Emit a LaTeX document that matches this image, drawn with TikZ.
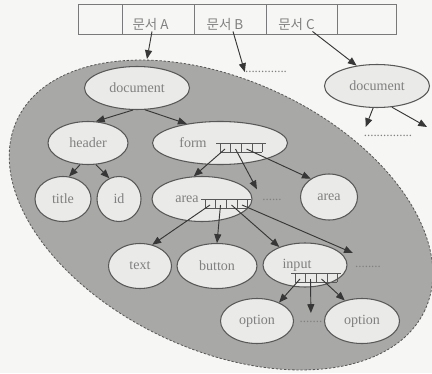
\documentclass[tikz,border=0pt]{standalone}
\usepackage{fontspec}
\setmainfont{Liberation Serif}
\newfontfamily\kofont{Noto Sans CJK KR}
\usepackage{tikz}
\usetikzlibrary{arrows.meta,shapes.geometric,calc}
\usepackage{xcolor}

\definecolor{paper}{RGB}{246,246,244}
\definecolor{domfill}{RGB}{168,168,166}
\definecolor{elemfill}{RGB}{234,234,232}
\definecolor{rim}{RGB}{88,88,88}
\definecolor{ink}{RGB}{128,128,128}
\definecolor{arrowc}{RGB}{55,55,55}

\begin{document}
\begin{tikzpicture}[x=0.03cm,y=-0.03cm,
		elem/.style={draw=rim,line width=0.9pt,fill=elemfill,ellipse,inner sep=0pt,minimum height=1.35cm,text=ink,font=\fontsize{12}{14}\selectfont},
		cell/.style={draw=rim!80,line width=0.8pt,fill=paper,rectangle,inner sep=0pt,minimum height=0.9cm,text height=0.62cm,text depth=0pt,text=ink,font=\kofont\fontsize{11.5}{13}\selectfont},
		more/.style={inner sep=0pt,text=ink,font=\fontsize{11}{12}\selectfont},
		link/.style={-{Triangle[length=7.5pt,width=6pt]},draw=arrowc,line width=0.8pt},
		ptrs/.pic={
			\draw[rim,line width=0.8pt] (0,0) -- (50,0) (4,9) -- (46,9);
			\foreach \t in {4,14,25,36,46} \draw[rim,line width=0.8pt] (\t,0) -- (\t,9);
			\coordinate (-1) at (9,6);
			\coordinate (-2) at (19.5,6);
			\coordinate (-3) at (30.5,6);
			\coordinate (-4) at (41,6);
		}]
	\fill[paper] (0,0) rectangle (432,373);
	\useasboundingbox (0,0) rectangle (432,373);
	
	% DOM area
	\draw[fill=domfill,draw=rim,line width=0.7pt,dash pattern=on 2pt off 1.5pt,rotate around={-25:(221,215)}] (221,215) ellipse [x radius=225,y radius=135];
	\coordinate (domtop) at (147,59);
	
	% document array
	\node[cell,minimum width=1.32cm] (c0) at (100,19) {};
	\node[cell,minimum width=2.16cm] (cA) at (158,19) {문서 A\hspace{0.45cm}\mbox{}};
	\node[cell,minimum width=2.16cm] (cB) at (230,19) {문서 B\hspace{0.3cm}\mbox{}};
	\node[cell,minimum width=2.13cm] (cC) at (301.5,19) {문서 C\hspace{0.3cm}\mbox{}};
	\node[cell,minimum width=1.77cm] (c4) at (366.5,19) {};
	
	% tree
	\node[elem,minimum width=3.15cm,minimum height=1.29cm] (doc) at (137,88) {document};
	\node[elem,minimum width=2.4cm,minimum height=1.29cm] (header) at (88,143) {header};
	\node[elem,minimum width=4.05cm,minimum height=1.29cm] (form) at (220,143) {form\hspace{1.62cm}\mbox{}};
	\node[elem,minimum width=1.68cm] (title) at (63,199) {title};
	\node[elem,minimum width=1.32cm] (id) at (119,199) {id};
	\node[elem,minimum width=3cm] (area) at (202,199) {area\hspace{0.9cm}\mbox{}};
	\node[elem,minimum width=1.71cm,minimum height=1.38cm] (area2) at (329,197) {area};
	\node[elem,minimum width=1.89cm] (text) at (140,266) {text};
	\node[elem,minimum width=2.4cm] (button) at (217,266) {button};
	\node[elem,minimum width=2.52cm,minimum height=1.32cm] (input) at (305,265) {input\hspace{0.48cm}\mbox{}};
	\node[elem,minimum width=2.19cm] (option) at (257,321) {option};
	\node[elem,minimum width=2.25cm] (option2) at (362,321) {option};
	
	% second document
	\node[elem,minimum width=3.15cm,minimum height=1.29cm] (docC) at (377,86) {document};
	\coordinate (docCnext) at (427,127);
	
	% more
	\node[more] (dTop) at (266,72) {.............};
	\node[more] (dC) at (388,136) {...............};
	\node[more] (dA) at (272,200) {......};
	\node[more] (dI) at (368,267) {........};
	\node[more] (dB) at (311,322) {.......};
	
	% links
	\draw[link] ($(cA.south)+(-6,-3)$) -- (domtop);
	\draw[link] ($(cB.south)+(3,-3)$) -- (dTop.west);
	\draw[link] ($(cC.south)+(11,-3)$) -- (docC.135);
	\draw[link] (docC.260) -- ($(dC.north west)+(2,-8)$);
	\draw[link] (docC.305) -- (docCnext);
	
	\draw[link] (doc.260) -- (header.70);
	\draw[link] (doc.290) -- (form.150);
	\draw[link] (header.250) -- (title.75);
	\draw[link] (header.290) -- (id.115);
	
	\pic (fp) at (216,143) {ptrs};
	\draw[link] (fp-1) -- (area.110);
	\draw[link,shorten >=0.33cm] (fp-2) -- (dA.north west);
	\draw[link] (fp-3) -- (area2.135);
	
	\pic (ap) at (201,199) {ptrs};
	\draw[link] (ap-1) -- (text.60);
	\draw[link] (ap-2) -- (button.north);
	\draw[link] (ap-3) -- (input.145);
	\draw[link] (ap-4) -- ($(dI.north west)+(-2,-13)$);
	
	\pic (ip) at (291,273) {ptrs};
	\draw[link] (ip-1) -- (option.40);
	\draw[link,shorten >=0.24cm] (ip-2) -- (dB.north);
	\draw[link] (ip-3) -- (option2.130);
\end{tikzpicture}
\end{document}
